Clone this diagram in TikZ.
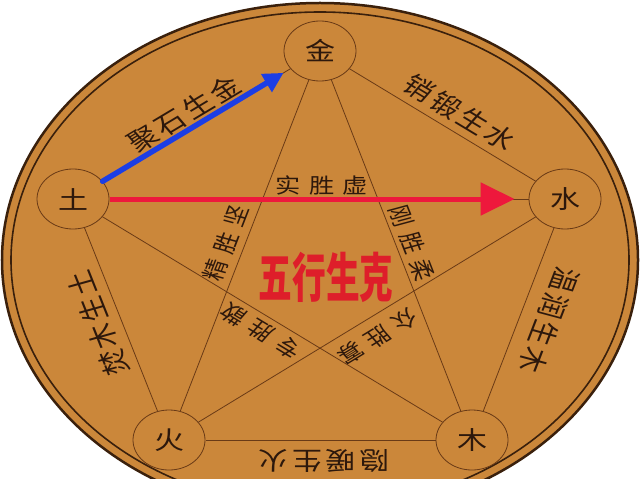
\documentclass[tikz,border=0pt]{standalone}
\usepackage{fontspec}
\newfontfamily\cjk{Noto Sans CJK SC}
\usetikzlibrary{arrows.meta}

\definecolor{coin}{RGB}{203,135,58}
\definecolor{rim}{RGB}{58,32,12}
\definecolor{wire}{RGB}{105,58,22}
\definecolor{ink}{RGB}{45,24,12}
\definecolor{shengblue}{RGB}{28,62,228}
\definecolor{kered}{RGB}{238,24,60}
\definecolor{titlered}{RGB}{222,30,42}

\newcommand\lsp{\kern3pt}
\newcommand\wsp{\kern7pt}

\tikzset{
  element/.style={circle, draw=wire, line width=0.8pt, minimum size=60pt, inner sep=0pt,
    font=\cjk\fontsize{25}{25}\selectfont, text=ink},
  edge/.style={draw=wire, line width=0.8pt},
  rule/.style={font=\cjk\fontsize{25}{25}\selectfont, text=ink, inner sep=0pt},
  ctrl/.style={font=\cjk\fontsize{21}{21}\selectfont, text=ink, inner sep=0pt},
}

\begin{document}
\begin{tikzpicture}[x=0.833333pt, y=-1pt, xscale=1.2, transform shape]
\useasboundingbox (0,0) rectangle (640,478);
\fill[white] (0,0) rectangle (640,478);
% coin
\filldraw[fill=coin, draw=rim, line width=2.5pt] (320,260) ellipse [x radius=265pt, y radius=257pt];
\draw[rim, line width=1.6pt] (320,260) ellipse [x radius=257.5pt, y radius=248pt];

% five elements
\node[element] (jin)  at (320,51)  {金};
\node[element] (shui) at (565,199) {水};
\node[element] (mu)   at (472,440) {木};
\node[element] (huo)  at (169,440) {火};
\node[element] (tu)   at (73,199)  {土};

% pentagon and star
\foreach \a/\b in {jin/shui, shui/mu, mu/huo, huo/tu, tu/jin, jin/huo, jin/mu, tu/shui, tu/mu, shui/huo}
  \draw[edge] (\a) -- (\b);

% sheng labels
\node[rule, rotate=35.7]   (jushi)   at (184,114) {聚\lsp 石\lsp 生\lsp 金};
\node[rule, rotate=-35.9]  (xiaoduan) at (460,113) {销\lsp 锻\lsp 生\lsp 水};
\node[rule, rotate=-107.8] (wenrun)  at (549,320) {温\lsp 润\lsp 生\lsp 木};
\node[rule, rotate=180]    (yinnuan) at (324,461) {隐\lsp 暖\lsp 生\lsp 火};
\node[rule, rotate=108.4]  (fenmu)   at (98,323)  {焚\lsp 木\lsp 生\lsp 土};

% ke labels
\node[ctrl]                (shixu)   at (322,185) {实\wsp 胜\wsp 虚};
\node[ctrl, rotate=72.1]   (jingjian) at (226,243) {精\wsp 胜\wsp 坚};
\node[ctrl, rotate=-72]    (gangrou) at (412,243) {刚\wsp 胜\wsp 柔};
\node[ctrl, rotate=144.1]  (zhuansan) at (261,331) {专\wsp 胜\wsp 散};
\node[ctrl, rotate=-143.9] (zhonggua) at (378,337) {众\wsp 胜\wsp 寡};

% arrows
\draw[shengblue, line width=5.5pt, line cap=round, -{Triangle[length=20pt, width=20pt]}, shorten >=8pt] (tu) -- (jin);
\draw[kered, line width=5pt, -{Triangle[length=34pt, width=32pt]}, shorten >=14pt] (tu) -- (shui);

% title
\node[font=\cjk\bfseries\fontsize{53}{53}\selectfont, text=titlered, xscale=0.53] (title) at (326,277) {五行生克};
\end{tikzpicture}
\end{document}
